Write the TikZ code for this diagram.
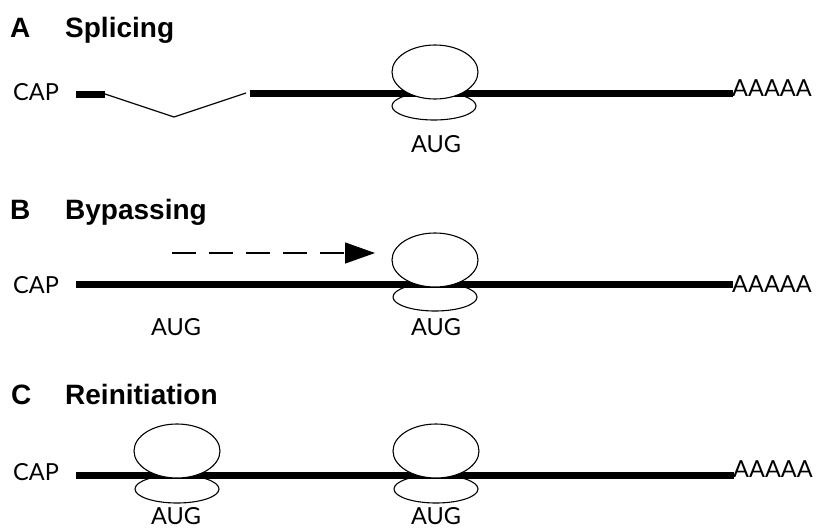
\documentclass[tikz,border=0pt]{standalone}
\usepackage{fontspec}
\setmainfont{Lato}
\newfontfamily\titlefont{Liberation Sans}
\usetikzlibrary{shapes.geometric,arrows.meta}
\tikzset{
  lbl/.style={inner sep=0pt, font=\fontsize{23.5}{23.5}\selectfont},
  ttl/.style={inner sep=0pt, anchor=base west, font=\titlefont\bfseries\fontsize{28}{28}\selectfont},
  mrna/.style={line width=7pt},
  intron/.style={line width=1.2pt, line join=miter},
  bigsub/.style={ellipse, draw, line width=1.1pt, fill=white, minimum width=86pt, minimum height=54pt, inner sep=0pt},
  smallsub/.style={ellipse, draw, line width=1.1pt, minimum width=84pt, minimum height=28pt, inner sep=0pt},
  scan/.style={line width=1.3pt, dash pattern=on 24pt off 13pt, -{Triangle[length=30pt,width=21pt]}}
}
\begin{document}
\begin{tikzpicture}[x=1pt,y=-1pt]
\useasboundingbox (0,0) rectangle (820,528);
% ---------- A ----------
\node[ttl] (tA) at (10,37) {A};
\node[ttl] (tAs) at (65,37) {Splicing};
\node[lbl, anchor=base west] (capA) at (13,100) {CAP};
\node[lbl, anchor=base west] (polyA) at (732,96) {AAAAA};
\coordinate (a0) at (76,94);
\coordinate (a1) at (105,94);
\coordinate (a2) at (174,117);
\coordinate (a3) at (246,93);
\coordinate (a4) at (250,93.5);
\coordinate (a5) at (733,93.5);
\node[smallsub] (sA) at (434,106) {};
\draw[mrna] (a0) -- (a1);
\draw[intron] (a1) -- (a2) -- (a3);
\draw[mrna] (a4) -- (a5);
\node[bigsub] (bA) at (435,72) {};
\node[lbl, anchor=base] (augA) at (436,152) {AUG};
% ---------- B ----------
\node[ttl] (tB) at (10,219) {B};
\node[ttl] (tBs) at (65,219) {Bypassing};
\node[lbl, anchor=base west] (capB) at (13,293) {CAP};
\node[lbl, anchor=base west] (polyB) at (732,292) {AAAAA};
\coordinate (b0) at (76,284);
\coordinate (b1) at (733,284);
\coordinate (d0) at (172,253);
\coordinate (d1) at (375,253);
\node[smallsub] (sB) at (435,297) {};
\draw[mrna] (b0) -- (b1);
\node[bigsub] (bB) at (435,260) {};
\draw[scan] (d0) -- (d1);
\node[lbl, anchor=base] (augB1) at (176,335) {AUG};
\node[lbl, anchor=base] (augB2) at (436,335) {AUG};
% ---------- C ----------
\node[ttl] (tC) at (11,404) {C};
\node[ttl] (tCs) at (65,404) {Reinitiation};
\node[lbl, anchor=base west] (capC) at (13,480) {CAP};
\node[lbl, anchor=base west] (polyC) at (733,477) {AAAAA};
\coordinate (c0) at (76,475);
\coordinate (c1) at (734,475);
\node[smallsub] (sC1) at (177,489) {};
\node[smallsub] (sC2) at (436,489) {};
\draw[mrna] (c0) -- (c1);
\node[bigsub] (bC1) at (177,451) {};
\node[bigsub] (bC2) at (436,451) {};
\node[lbl, anchor=base] (augC1) at (176,524) {AUG};
\node[lbl, anchor=base] (augC2) at (436,524) {AUG};
\end{tikzpicture}
\end{document}
